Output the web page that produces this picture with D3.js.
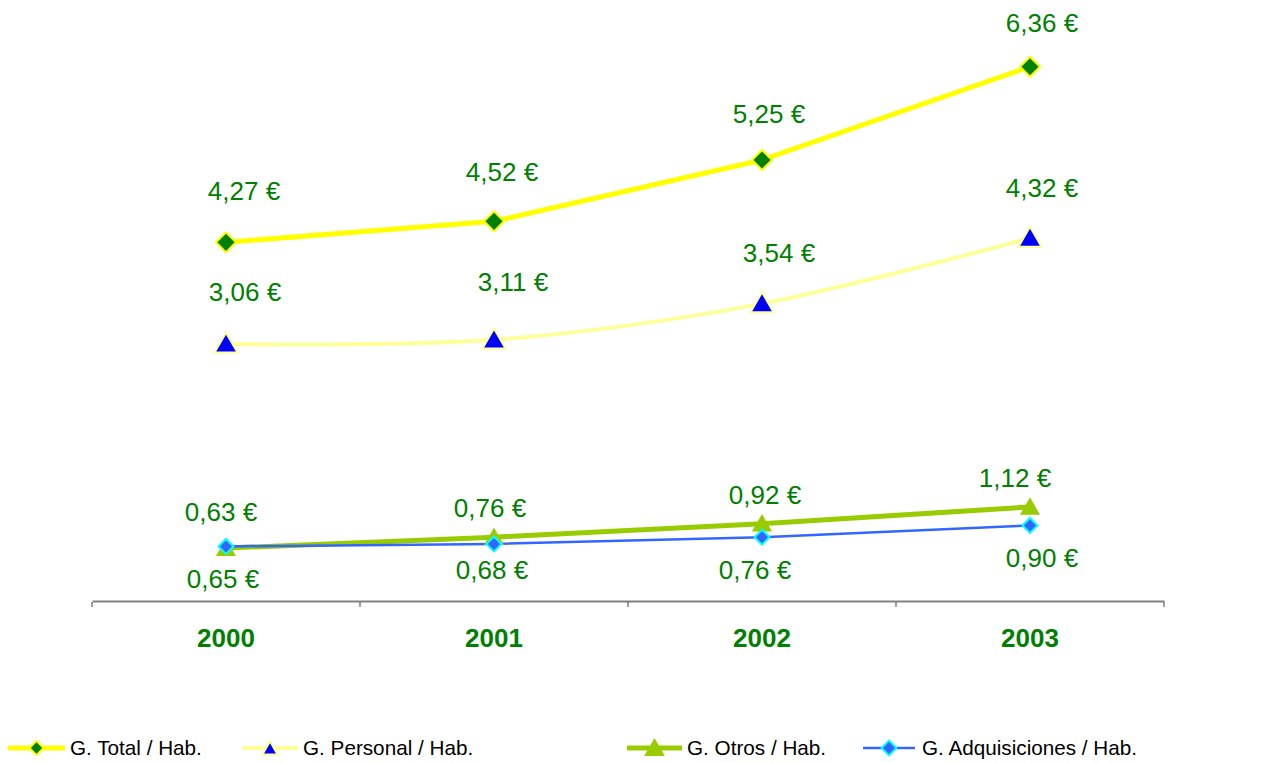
<!DOCTYPE html>
<html><head><meta charset="utf-8">
<script src="https://cdn.jsdelivr.net/npm/d3@7"></script>
<style>body{margin:0;background:#fff}svg{display:block}text{font-family:"Liberation Sans",Arial,sans-serif}</style>
</head><body><svg id="c" width="1278" height="763"></svg>
<script>
const years = ["2000","2001","2002","2003"];
const total = [4.27, 4.52, 5.25, 6.36];
const personal = [3.06, 3.11, 3.54, 4.32];
const otros = [0.63, 0.76, 0.92, 1.12];
const adquisiciones = [0.65, 0.68, 0.76, 0.90];
const seriesNames = ["G. Total / Hab.", "G. Personal / Hab.", "G. Otros / Hab.", "G. Adquisiciones / Hab."];
// label nudges (pixels) relative to each point
const labelOffsets = [
  [[18,-51],[8,-49],[7,-46],[12,-44]],
  [[19,-52],[19,-58],[17,-51],[12,-50]],
  [[-5,-36],[-4,-29],[3,-29],[-15,-29]],
  [[-3,32],[-2,26],[-7,33],[12,32]]
];

const styles = [
  {line:"#FFFF00", lw:5, sym:"diamond", fill:"#008000", stroke:"#FFFF00", size:200, lsize:100, curve:d3.curveLinear},
  {line:"#FFFF99", lw:4, sym:"triangle", fill:"#0000FF", stroke:"#FFFF99", size:230, lsize:100, curve:d3.curveCardinal.tension(0)},
  {line:"#99CC00", lw:5, sym:"triangle", fill:"#99CC00", stroke:"#99CC00", size:120, lsize:130, curve:d3.curveLinear},
  {line:"#3366FF", lw:2.5, sym:"diamond", fill:"#3366FF", stroke:"#00FFFF", size:110, lsize:110, curve:d3.curveLinear}
];
const data = [total, personal, otros, adquisiciones];

const svg = d3.select("#c");
const x = d3.scaleBand().domain(years).range([92, 1164]);
const y = d3.scaleLinear().domain([0, 7]).range([601, 13]);
const cx = d => x(d) + x.bandwidth()/2;

// axis
const ax = svg.append("g").attr("transform","translate(0,601)")
  .call(d3.axisBottom(x).tickSize(0).tickFormat(""));
ax.select(".domain").attr("stroke","#808080").attr("stroke-width",2);
const bounds = years.map(d => x(d)).concat([x.range()[1]]);
svg.append("g").selectAll("line").data(bounds).join("line")
  .attr("x1",d=>d).attr("x2",d=>d).attr("y1",602).attr("y2",607)
  .attr("stroke","#404040").attr("stroke-width",1);
svg.append("g").selectAll("text").data(years).join("text")
  .attr("x",d=>cx(d)).attr("y",647).attr("text-anchor","middle")
  .attr("font-size",26).attr("font-weight","bold").attr("fill","#008000").text(d=>d);

function markerPath(s, size){
  if (s.sym==="diamond") return d3.symbol(d3.symbolSquare, size)();
  return d3.symbol(d3.symbolTriangle, size)();
}
function markerTransform(s, px, py){
  if (s.sym==="diamond") return `translate(${px},${py}) rotate(45)`;
  return `translate(${px},${py+2})`;
}

data.forEach((vals, i) => {
  const s = styles[i];
  const line = d3.line().x((d,j)=>cx(years[j])).y(d=>y(d)).curve(s.curve);
  svg.append("path").attr("d", line(vals)).attr("fill","none")
    .attr("stroke", s.line).attr("stroke-width", s.lw).attr("stroke-linejoin","round");
});
data.forEach((vals, i) => {
  const s = styles[i];
  svg.append("g").selectAll("path").data(vals).join("path")
    .attr("d", markerPath(s, s.size))
    .attr("transform",(d,j)=>markerTransform(s, cx(years[j]), y(d)))
    .attr("fill", s.fill).attr("stroke", s.stroke).attr("stroke-width", 2);
});
const fmt = v => d3.format(".2f")(v).replace(".", ",") + " €";
data.forEach((vals, i) => {
  svg.append("g").selectAll("text").data(vals).join("text")
    .attr("x",(d,j)=>cx(years[j]) + labelOffsets[i][j][0])
    .attr("y",(d,j)=>y(d) + labelOffsets[i][j][1])
    .attr("dy","0.35em").attr("text-anchor","middle")
    .attr("font-size",26).attr("fill","#008000").text(d=>fmt(d));
});

// legend
const legendX = [8, 242, 627, 863];
const legendTextX = [70, 303, 687, 922];
const legendW = [57, 56, 55, 52];
const ly = 748;
seriesNames.forEach((name, i) => {
  const s = styles[i];
  const g = svg.append("g");
  g.append("line").attr("x1",legendX[i]).attr("x2",legendX[i]+legendW[i]).attr("y1",ly).attr("y2",ly)
    .attr("stroke", s.line).attr("stroke-width", s.lw);
  g.append("path").attr("d", markerPath(s, s.lsize))
    .attr("transform", markerTransform(s, legendX[i]+legendW[i]/2, ly))
    .attr("fill", s.fill).attr("stroke", s.stroke).attr("stroke-width", 2);
  g.append("text").attr("x", legendTextX[i]).attr("y", ly).attr("dy","0.35em")
    .attr("font-size",20.7).attr("fill","#000").text(name);
});
</script></body></html>
